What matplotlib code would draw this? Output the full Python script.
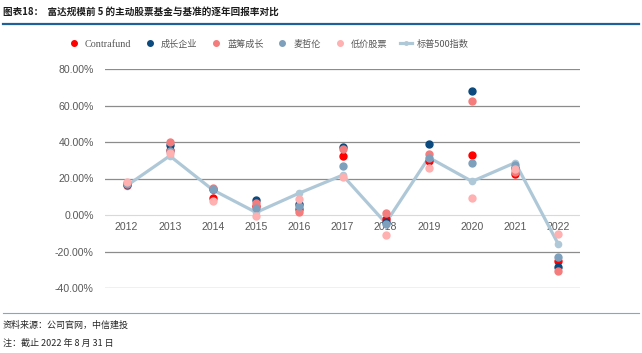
import matplotlib
matplotlib.use("Agg")
import matplotlib.pyplot as plt
from matplotlib.lines import Line2D
import numpy as np

plt.rcParams['font.family'] = ['Liberation Sans', 'Noto Sans CJK SC', 'DejaVu Sans']

years = ['2012', '2013', '2014', '2015', '2016', '2017', '2018', '2019', '2020', '2021', '2022']
contrafund = [16.4, 35.5, 9.5, 5.2, 3.1, 32.5, -2.0, 29.8, 32.9, 22.5, -25.4]
growth_co = [17.0, 38.2, 14.3, 8.2, 6.0, 37.4, -4.0, 38.7, 67.8, 25.5, -28.3]
bluechip = [17.5, 40.2, 15.0, 6.4, 1.6, 36.2, 1.3, 33.4, 62.6, 23.5, -30.5]
magellan = [17.2, 35.0, 14.1, 4.0, 4.9, 27.0, -5.0, 31.2, 28.3, 27.2, -23.0]
low_price = [18.2, 34.1, 7.8, -0.5, 8.8, 21.0, -10.8, 25.5, 9.3, 25.0, -10.4]
sp500 = [16.0, 32.4, 13.7, 1.4, 12.0, 21.8, -4.4, 31.5, 18.4, 28.7, -16.1]

names = ['Contrafund', '成长企业', '蓝筹成长', '麦哲伦', '低价股票', '标普500指数']
colors = ['#FF0000', '#0B4A7E', '#F47C7C', '#7FA0BC', '#FFB0B0', '#AFC8D8']
yticks = [-40, -20, 0, 20, 40, 60, 80]

fig = plt.figure(figsize=(6.42, 3.53), dpi=100)
ax = fig.add_axes([105/642, 1-288/353, 475/642, 219/353])
x = np.arange(len(years))

for v in yticks:
    if v == 0:
        ax.axhline(v, color='#D9D9D9', lw=0.8, zorder=0)
    else:
        ax.axhline(v, color='#8C8C8C', lw=0.9, zorder=0)

ax.plot(x, sp500, color=colors[5], lw=2.3, marker='o', ms=4.5, zorder=2)
series = [contrafund, growth_co, bluechip, magellan, low_price]
for s, c in zip(series, colors[:5]):
    ax.plot(x, s, ls='none', marker='o', ms=5, color=c, mec=c, zorder=3)

ax.set_xlim(-0.5, len(years) - 0.5)
ax.set_ylim(-40, 80)
ax.set_yticks(yticks)
ax.set_yticklabels(['%.2f%%' % v for v in yticks], fontsize=7.6, color='#595959')
ax.tick_params(axis='y', length=0, pad=8)
ax.set_xticks([])
for sp in ax.spines.values():
    sp.set_visible(False)
for i, yr in enumerate(years):
    ax.annotate(yr, (i, 0), xytext=(0, -5), textcoords='offset points',
                ha='center', va='top', fontsize=7.6, color='#595959', zorder=1)

# legend
handles = [Line2D([], [], ls='none', marker='o', ms=4, color=c) for c in colors[:5]]
handles.append(Line2D([], [], color=colors[5], lw=2.3, marker='o', ms=2.5))
leg = fig.legend(handles, names, loc='center', bbox_to_anchor=(268/642, 1-44/353), ncol=6,
                 frameon=False, labelcolor='#595959', handlelength=1.4,
                 handletextpad=0.5, columnspacing=1.35,
                 prop={'family': ['Noto Sans CJK SC'], 'size': 6.6})
leg.get_texts()[0].set_family(['Liberation Serif'])
leg.get_texts()[0].set_fontsize(7.3)

# header and footer
fig.text(3/642, 1-12/353, '图表18：  富达规模前 5 的主动股票基金与基准的逐年回报率对比',
         fontsize=6.9, fontweight='bold', color='#1A1A1A', va='center', ha='left',
         family=['Noto Sans CJK SC'])
fig.add_artist(Line2D([3/642, 639/642], [1-24/353, 1-24/353], color='#1F5F9A', lw=1.6))
fig.add_artist(Line2D([3/642, 639/642], [1-313/353, 1-313/353], color='#7FA8CF', lw=0.8))
fig.text(3/642, 1-325/353, '资料来源：公司官网，中信建投', fontsize=6.5, color='#262626',
         va='center', family=['Noto Sans CJK SC'])
fig.text(3/642, 1-343/353, '注：截止 2022 年 8 月 31 日', fontsize=6.5, color='#262626',
         va='center', family=['Noto Sans CJK SC'])

fig.savefig('out.png', dpi=100)
